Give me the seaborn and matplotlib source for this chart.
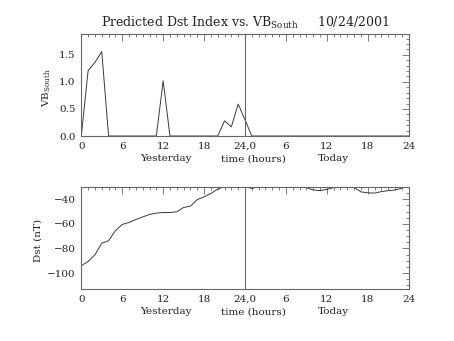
import numpy as np
import pandas as pd
import matplotlib
matplotlib.use("Agg")
import matplotlib.pyplot as plt
import seaborn as sns
from matplotlib.ticker import MultipleLocator, FixedLocator

# ---- data ----
hours = list(range(0, 49))
vb_south = [0.0, 1.21, 1.36, 1.56, 0.0, 0.0, 0.0, 0.0, 0.0, 0.0, 0.0, 0.0,
            1.02, 0.0, 0.0, 0.0, 0.0, 0.0, 0.0, 0.0, 0.0, 0.28, 0.17, 0.59,
            0.30, 0.0, 0.0, 0.0, 0.0, 0.0, 0.0, 0.0, 0.0, 0.0, 0.0, 0.0,
            0.0, 0.0, 0.0, 0.0, 0.0, 0.0, 0.0, 0.0, 0.0, 0.0, 0.0, 0.0, 0.0]
dst_hours = list(range(0, 48))
dst = [-94.1, -90.6, -85.2, -75.8, -73.7, -65.6, -60.5, -58.9, -56.5, -54.4,
       -52.4, -51.3, -50.8, -50.8, -50.2, -46.7, -45.6, -40.3, -38.1, -35.3,
       -31.8, -29.5, -28.0, -28.0, -29.8, -31.2, -29.5, -28.0, -27.0, -27.0,
       -28.0, -29.0, -29.5, -30.5, -32.5, -33.0, -32.0, -30.5, -29.5, -29.5,
       -30.5, -34.0, -34.8, -35.0, -33.8, -33.0, -32.5, -31.0]
xtick_vals = [0, 6, 12, 18, 24, 30, 36, 42, 48]
xtick_labels = ["0", "6", "12", "18", "24,0", "6", "12", "18", "24"]
vb_ticks = [0.0, 0.5, 1.0, 1.5]
dst_ticks = [-40, -60, -80, -100]
title_text = "Predicted Dst Index vs. VB$_{\\mathregular{South}}$     10/24/2001"

sns.set_style("white")
plt.rcParams['font.family'] = ['DejaVu Serif']
plt.rcParams['mathtext.fontset'] = 'dejavuserif'

df_vb = pd.DataFrame({"hour": hours, "vb": vb_south})
df_dst = pd.DataFrame({"hour": dst_hours, "dst": dst})

fig = plt.figure(figsize=(4.54, 3.41), dpi=100)
ax1 = fig.add_axes([81.3/454, 1-136/341, 327.4/454, 101.7/341])
ax2 = fig.add_axes([81.3/454, 1-289/341, 327.4/454, 101.7/341])

lc = "#3a3a3a"
sns.lineplot(data=df_vb, x="hour", y="vb", ax=ax1, color=lc, lw=0.7)
sns.lineplot(data=df_dst, x="hour", y="dst", ax=ax2, color=lc, lw=0.7)

ax1.set_ylim(0, 1.88)
ax2.set_ylim(-113, -30.3)

fs = 7.5
for ax, yt in ((ax1, vb_ticks), (ax2, dst_ticks)):
    ax.set_xlim(0, 48)
    ax.axvline(24, color="#666666", lw=0.8)
    ax.xaxis.set_major_locator(FixedLocator(xtick_vals))
    ax.set_xticklabels(xtick_labels)
    ax.xaxis.set_minor_locator(MultipleLocator(1))
    ax.yaxis.set_major_locator(FixedLocator(yt))
    ax.tick_params(which="both", direction="in", top=True, right=True,
                   color="#666666", width=0.6, labelsize=fs,
                   labelcolor="#222222")
    ax.tick_params(which="major", length=5)
    ax.tick_params(which="minor", length=2.5)
    ax.tick_params(axis="x", pad=4)
    ax.tick_params(axis="y", pad=4)
    for s in ax.spines.values():
        s.set_color("#666666")
        s.set_linewidth(0.8)
    ax.set_xlabel("")
    for xpos, txt in ((12.4, "Yesterday"), (25.2, "time (hours)"), (37.0, "Today")):
        ax.text(xpos, -0.25, txt, transform=ax.get_xaxis_transform(),
                ha="center", va="baseline", fontsize=fs, color="#222222")

ax1.yaxis.set_minor_locator(MultipleLocator(0.1))
ax1.set_yticklabels(["0.0", "0.5", "1.0", "1.5"])
ax2.yaxis.set_minor_locator(MultipleLocator(5))
ax2.set_yticklabels(["\u221240", "\u221260", "\u221280", "\u2212100"])

ax1.set_ylabel("VB$_{\\mathregular{South}}$", fontsize=fs, color="#222222")
ax2.set_ylabel("Dst (nT)", fontsize=fs, color="#222222")
ax1.yaxis.set_label_coords(-0.0855, 0.48)
ax2.yaxis.set_label_coords(-0.119, 0.48)
ax1.set_title(title_text, fontsize=9, pad=5, color="#222222")

fig.savefig("out.png", dpi=100)
